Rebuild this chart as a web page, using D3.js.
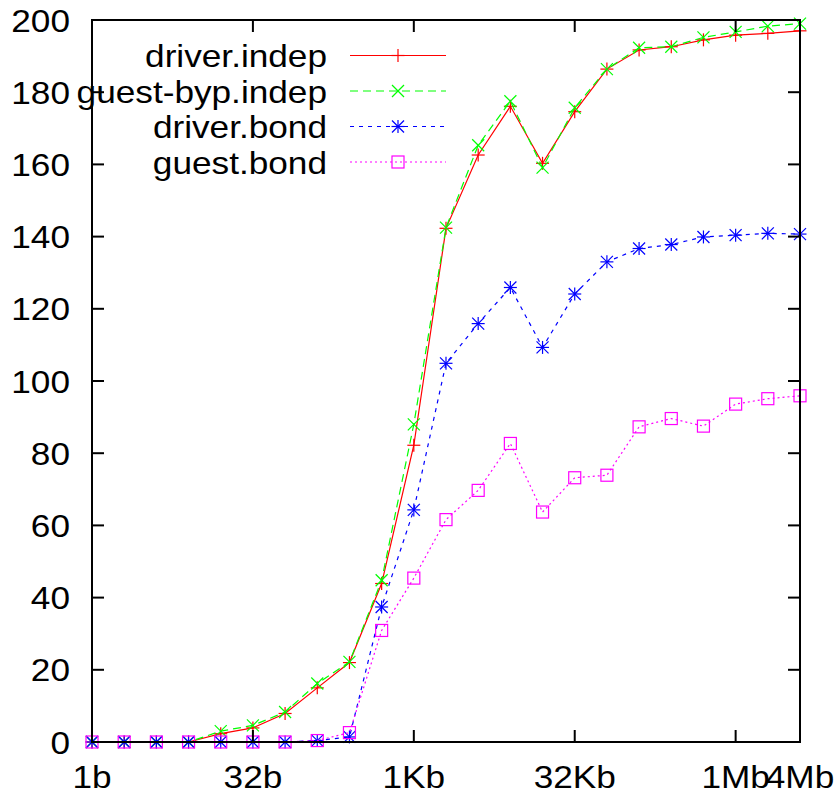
<!DOCTYPE html>
<html><head><meta charset="utf-8">
<script src="https://cdn.jsdelivr.net/npm/d3@7"></script>
<style>html,body{margin:0;padding:0;background:#fff;}</style>
</head><body>
<svg id="c" width="837" height="797"></svg>
<script>
const sizes = [1,2,4,8,16,32,64,128,256,512,1024,2048,4096,8192,16384,32768,65536,131072,262144,524288,1048576,2097152,4194304];
const xTickValues = [1,32,1024,32768,1048576,4194304];
const xTickLabels = ["1b","32b","1Kb","32Kb","1Mb","4Mb"];
const yTickValues = [0,20,40,60,80,100,120,140,160,180,200];

const driverIndep   = [0,0,0,0,2.3,3.9,7.9,15.0,22.0,43.9,82.2,142.3,162.6,176.1,160.3,174.6,186.4,191.7,192.6,194.5,195.8,196.3,197.0];
const guestBypIndep = [0,0,0,0,3.0,4.6,8.3,16.2,22.2,44.8,88.0,142.5,165.3,177.5,159.1,175.7,186.4,192.3,192.6,195.2,196.7,198.3,199.0];
const driverBond    = [0,0,0,0,0,0,0,0.4,1.4,37.4,64.3,104.9,115.9,125.9,109.3,124.1,133.0,136.7,137.8,139.9,140.4,140.9,140.7];
const guestBond     = [0,0,0,0,0,0,0,0.4,2.6,30.9,45.4,61.6,69.7,82.7,63.7,73.2,73.9,87.3,89.6,87.5,93.6,95.1,95.9];

const seriesNames = ["driver.indep","guest-byp.indep","driver.bond","guest.bond"];
const seriesData = [driverIndep, guestBypIndep, driverBond, guestBond];
const seriesColors = ["#ff0000","#00ff00","#0000ff","#ff00ff"];
const seriesDash = [null,"8,5","4,5","2,3"];
const seriesMarker = ["plus","cross","star","square"];

const L=92,R=800,T=20,B=742;
const svg = d3.select("#c");
const x = d3.scaleLog().base(2).domain([1,4194304]).range([L,R]);
const y = d3.scaleLinear().domain([0,200]).range([B,T]);
const FONT = "'Liberation Sans', Arial, sans-serif";
const FS = 32, SX = 1.1;

function marker(g, type, cx, cy, color){
  const s = 6.5;
  if(type==="plus"||type==="star"){
    g.append("line").attr("x1",cx-s).attr("x2",cx+s).attr("y1",cy).attr("y2",cy);
    g.append("line").attr("x1",cx).attr("x2",cx).attr("y1",cy-s).attr("y2",cy+s);
  }
  if(type==="cross"||type==="star"){
    const c = 6;
    g.append("line").attr("x1",cx-c).attr("x2",cx+c).attr("y1",cy-c).attr("y2",cy+c);
    g.append("line").attr("x1",cx-c).attr("x2",cx+c).attr("y1",cy+c).attr("y2",cy-c);
  }
  if(type==="square"){
    g.append("rect").attr("x",cx-6).attr("y",cy-6).attr("width",12).attr("height",12).attr("fill","none");
  }
}

// series
seriesData.forEach((vals,k)=>{
  const g = svg.append("g").attr("stroke",seriesColors[k]).attr("stroke-width",1.2).attr("fill","none");
  const line = d3.line().x((d,i)=>x(sizes[i])).y(d=>y(d));
  g.append("path").attr("d",line(vals)).attr("stroke-dasharray",seriesDash[k]);
  const mg = g.append("g");
  vals.forEach((v,i)=>marker(mg, seriesMarker[k], x(sizes[i]), y(v), seriesColors[k]));
});

// frame
svg.append("rect").attr("x",L).attr("y",T).attr("width",R-L).attr("height",B-T)
  .attr("fill","none").attr("stroke","#000").attr("stroke-width",2);

// y ticks (left and mirrored right)
const tl = 12;
yTickValues.forEach(v=>{
  if(v>0 && v<200){
    svg.append("line").attr("x1",L).attr("x2",L+tl).attr("y1",y(v)).attr("y2",y(v)).attr("stroke","#000").attr("stroke-width",2);
    svg.append("line").attr("x1",R).attr("x2",R-tl).attr("y1",y(v)).attr("y2",y(v)).attr("stroke","#000").attr("stroke-width",2);
  }
  svg.append("text").attr("transform",`translate(70,${y(v)+11.5}) scale(${SX},1)`)
    .attr("text-anchor","end").attr("font-family",FONT).attr("font-size",FS).attr("fill","#000").text(v);
});
// x ticks
xTickValues.forEach((v,i)=>{
  if(v>1 && v<4194304){
    svg.append("line").attr("x1",x(v)).attr("x2",x(v)).attr("y1",B).attr("y2",B-tl).attr("stroke","#000").attr("stroke-width",2);
    svg.append("line").attr("x1",x(v)).attr("x2",x(v)).attr("y1",T).attr("y2",T+tl).attr("stroke","#000").attr("stroke-width",2);
  }
  svg.append("text").attr("transform",`translate(${x(v)},788) scale(${SX},1)`)
    .attr("text-anchor","middle").attr("font-family",FONT).attr("font-size",FS).attr("fill","#000").text(xTickLabels[i]);
});

// legend
const legY0 = 55.5, legDY = 35.5;
seriesNames.forEach((name,k)=>{
  const ly = legY0 + k*legDY;
  svg.append("text").attr("transform",`translate(327,${ly+11.5}) scale(${SX},1)`)
    .attr("text-anchor","end").attr("font-family",FONT).attr("font-size",FS).attr("fill","#000").text(name);
  const g = svg.append("g").attr("stroke",seriesColors[k]).attr("stroke-width",1.2).attr("fill","none");
  g.append("line").attr("x1",350).attr("x2",446).attr("y1",ly).attr("y2",ly).attr("stroke-dasharray",seriesDash[k]);
  marker(g, seriesMarker[k], 398, ly, seriesColors[k]);
});
</script>
</body></html>
